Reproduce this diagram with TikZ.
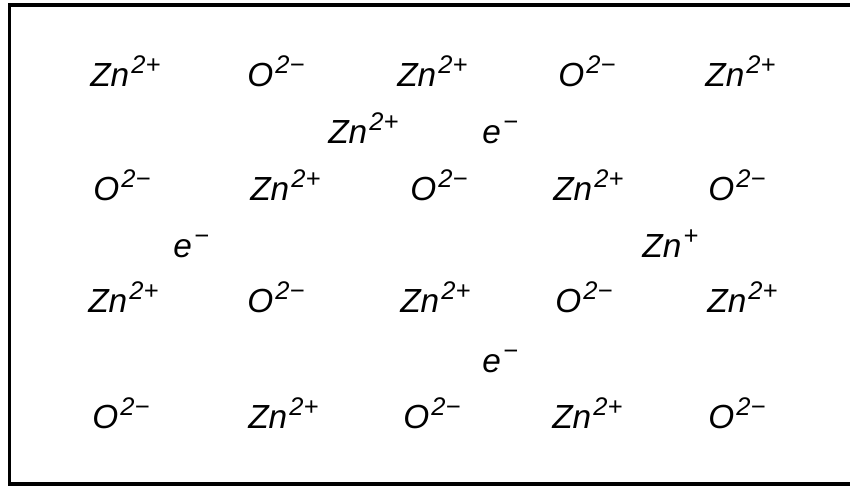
\documentclass[tikz,border=0pt]{standalone}
\usepackage{fontspec}
\setmainfont{Liberation Sans}
\newcommand{\chg}[1]{\kern1.2pt\raisebox{7pt}{\fontsize{14.5}{15}\selectfont #1}}
\newcommand{\zinc}[1]{Zn\chg{#1}}
\newcommand{\oxy}{O\chg{2−}}
\newcommand{\elec}{e\chg{−}}
\usetikzlibrary{positioning}

\begin{document}
\begin{tikzpicture}[x=0.02cm,y=-0.02cm,
  every node/.style={font=\fontsize{19}{22}\selectfont\itshape,
                     inner sep=0pt,anchor=base west}]
  \useasboundingbox (0,0) rectangle (850,487);
  % frame, open on the right
  \draw[line width=1.8pt] (850,5) -- (9.5,5) -- (9.5,484) -- (850,484);

  % row 1
  \node (zn11) at (90,86)  {\zinc{2+}};
  \node (o12)  at (247,86) {\oxy};
  \node (zn13) at (397,86) {\zinc{2+}};
  \node (o14)  at (558,86) {\oxy};
  \node (zn15) at (705,86) {\zinc{2+}};
  % interstitials
  \node (zni1) at (328,143) {\zinc{2+}};
  \node (e1)   at (482,143) {\elec};

  % row 2
  \node (o21)  at (93,200)  {\oxy};
  \node (zn22) at (250,200) {\zinc{2+}};
  \node (o23)  at (410,200) {\oxy};
  \node (zn24) at (553,200) {\zinc{2+}};
  \node (o25)  at (708,200) {\oxy};
  % interstitials
  \node (e2)   at (173,257) {\elec};
  \node (zni2) at (642,257) {\zinc{+}};

  % row 3
  \node (zn31) at (88,312)  {\zinc{2+}};
  \node (o32)  at (247,312) {\oxy};
  \node (zn33) at (400,312) {\zinc{2+}};
  \node (o34)  at (555,312) {\oxy};
  \node (zn35) at (707,312) {\zinc{2+}};
  % interstitial
  \node (e3)   at (482,372) {\elec};

  % row 4
  \node (o41)  at (92,428)  {\oxy};
  \node (zn42) at (248,428) {\zinc{2+}};
  \node (o43)  at (403,428) {\oxy};
  \node (zn44) at (552,428) {\zinc{2+}};
  \node (o45)  at (708,428) {\oxy};
\end{tikzpicture}
\end{document}
